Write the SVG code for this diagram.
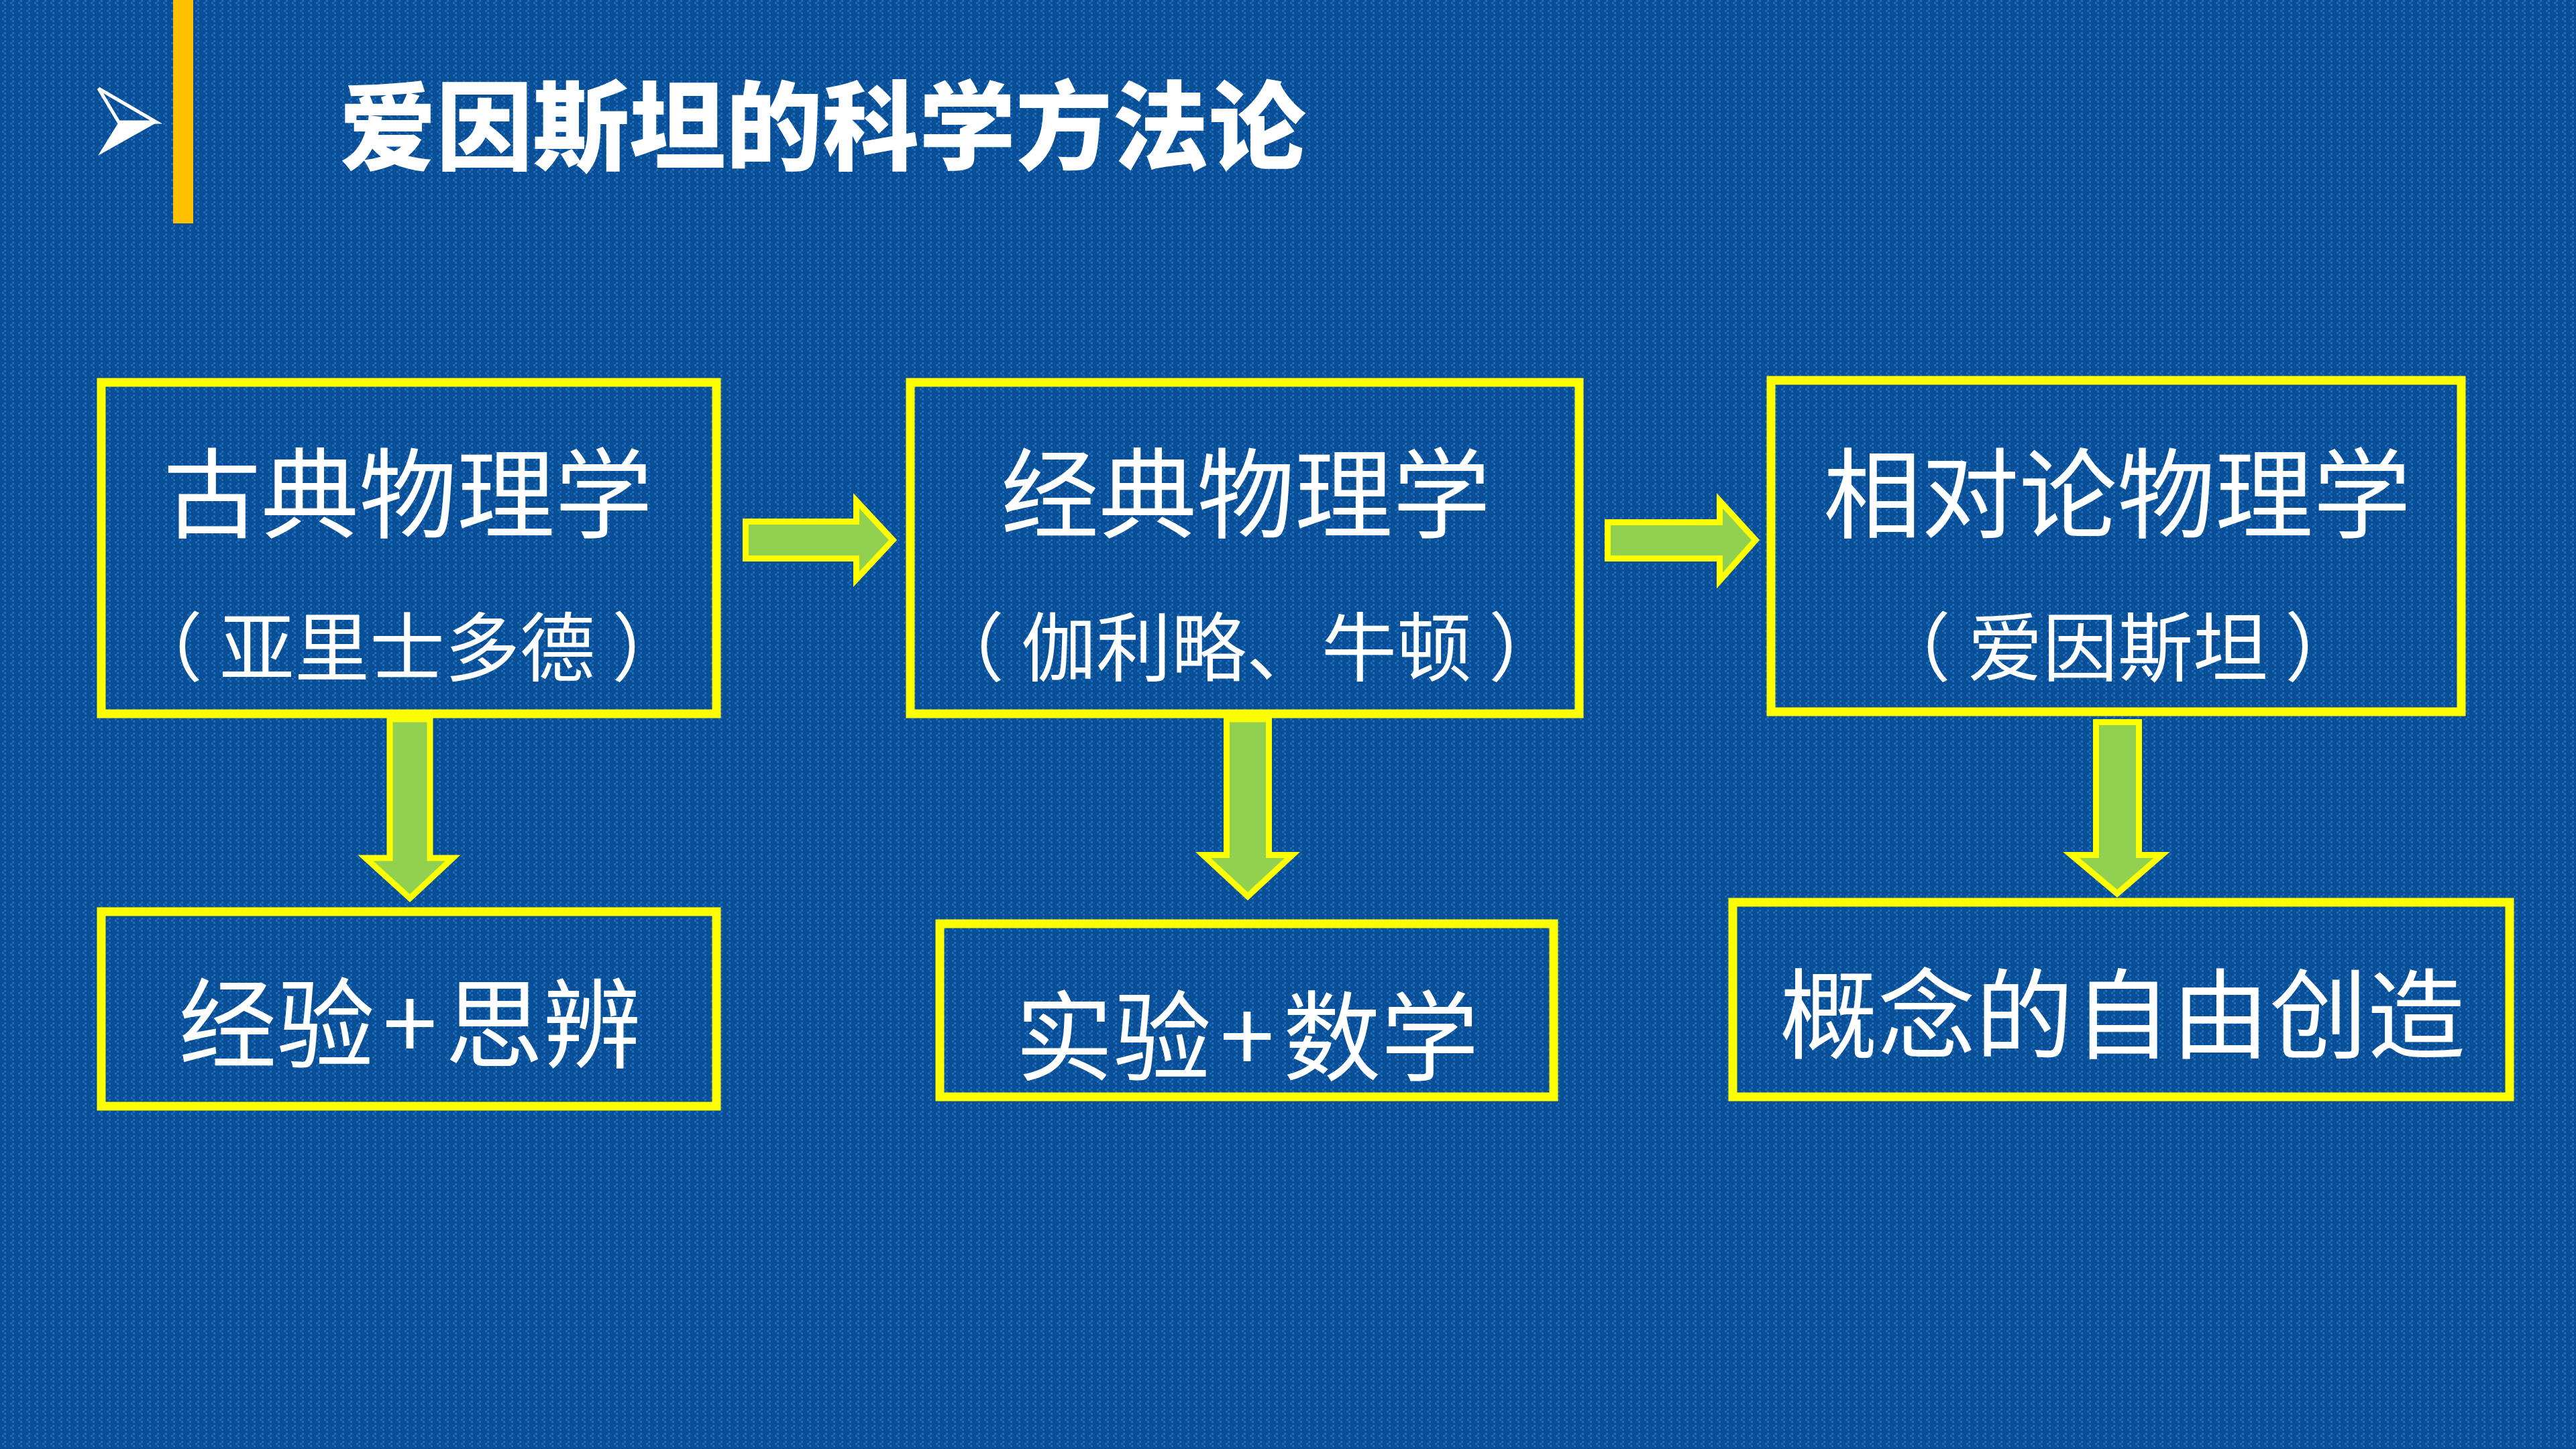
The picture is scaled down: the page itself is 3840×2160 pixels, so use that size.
<svg xmlns="http://www.w3.org/2000/svg" width="3840" height="2160" viewBox="0 0 3840 2160">
<defs>
<pattern id="bgp" x="0" y="0" width="12" height="12" patternUnits="userSpaceOnUse">
<rect width="12" height="12" fill="#0a4f95"/>
<rect x="6" y="0" width="3" height="3" fill="#1a6cbd"/>
<rect x="3" y="3" width="3" height="3" fill="#1a6cbd"/>
<rect x="6" y="6" width="3" height="3" fill="#1a6cbd"/>
</pattern>
<style>
.box{fill:none;stroke:#ffff00;stroke-width:13}
.arr{fill:#92d050;stroke:#ffff00;stroke-width:9;stroke-linejoin:miter}
.t{font-family:"Noto Sans CJK SC","Microsoft YaHei",sans-serif;fill:#ffffff;text-anchor:middle}
.main{font-size:146px}
.sub{font-size:112px}
.title{font-family:"Noto Sans CJK SC",sans-serif;font-weight:900;font-size:144px;fill:#ffffff}
</style>
</defs>
<rect width="3840" height="2160" fill="url(#bgp)"/>

<g id="header">
<rect x="258" y="0" width="30" height="333" fill="#ffc000"/>
<polygon points="147,132 233,182 177,182" fill="none" stroke="#ffffff" stroke-width="5" stroke-linejoin="miter"/>
<polygon points="177,182 235,182 146,232" fill="#ffffff"/>
<text class="title" x="506" y="242">爱因斯坦的科学方法论</text>
</g>

<g id="connectors">
<path class="arr" d="M1111.5,777.5 H1276.5 V746.5 L1331,805 L1276.5,863.5 V832.5 H1111.5 Z"/>
<path class="arr" d="M2396.5,778.5 H2563.5 V746.5 L2617,805 L2563.5,865.5 V832.5 H2396.5 Z"/>
<path class="arr" d="M581,1072 H641 V1279 H675 L611,1339 L545,1279 H581 Z"/>
<path class="arr" d="M1828.5,1072 H1891.5 V1274.5 H1926.5 L1860,1336 L1793.5,1274.5 H1828.5 Z"/>
<path class="arr" d="M3124.5,1076.5 H3188.5 V1274.5 H3222.5 L3156,1332 L3087.5,1274.5 H3124.5 Z"/>
</g>

<g id="node-ancient">
<rect class="box" x="151" y="570" width="917" height="494"/>
<text class="t main" x="608" y="790">古典物理学</text>
<text class="t sub" x="607" y="1007" xml:space="preserve">（ 亚里士多德 ）</text>
</g>

<g id="node-classical">
<rect class="box" x="1357" y="570" width="997" height="494"/>
<text class="t main" x="1857" y="790">经典物理学</text>
<text class="t sub" x="1858" y="1007" xml:space="preserve">（ 伽利略、牛顿 ）</text>
</g>

<g id="node-relativity">
<rect class="box" x="2640" y="567" width="1029" height="494"/>
<text class="t main" x="3156" y="790">相对论物理学</text>
<text class="t sub" x="3157" y="1007" xml:space="preserve">（ 爱因斯坦 ）</text>
</g>

<g id="node-experience">
<rect class="box" x="151" y="1359" width="917" height="290"/>
<text class="t main" x="611" y="1580">经验<tspan dx="12">+</tspan><tspan dx="12">思辨</tspan></text>
</g>

<g id="node-experiment">
<rect class="box" x="1401" y="1377" width="915" height="258"/>
<text class="t main" x="1859" y="1599">实验<tspan dx="13">+</tspan><tspan dx="13">数学</tspan></text>
</g>

<g id="node-creation">
<rect class="box" x="2583" y="1345" width="1158" height="290"/>
<text class="t main" x="3164" y="1566">概念的自由创造</text>
</g>
</svg>
